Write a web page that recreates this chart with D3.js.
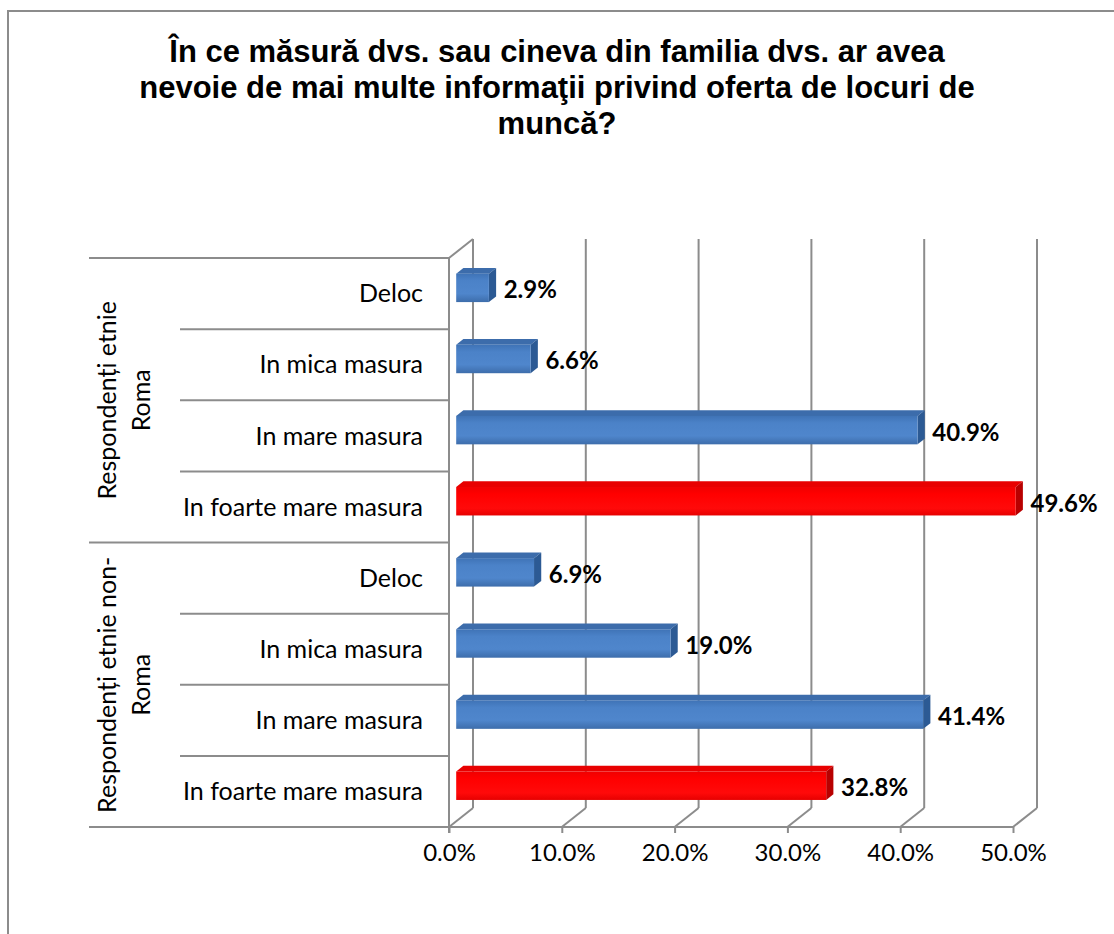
<!DOCTYPE html>
<html>
<head>
<meta charset="utf-8">
<script src="https://cdn.jsdelivr.net/npm/d3@7/dist/d3.min.js"></script>
<style>
  body { margin: 0; background: #fff; }
  text { font-family: Lato, "Open Sans", sans-serif; fill: #000; }
  .title { font-family: "Liberation Sans", Arial, sans-serif; font-weight: bold; font-size: 31px; }
</style>
</head>
<body>
<div id="chart"></div>
<script>
var TITLE = ["În ce măsură dvs. sau cineva din familia dvs. ar avea",
             "nevoie de mai multe informaţii privind oferta de locuri de",
             "muncă?"];
var groups = [["Respondenți etnie", "Roma"], ["Respondenți etnie non-", "Roma"]];
var categories = ["Deloc", "In mica masura", "In mare masura", "In foarte mare masura"];
var romaValues = [2.9, 6.6, 40.9, 49.6];
var nonRomaValues = [6.9, 19.0, 41.4, 32.8];
var ticks = [0, 10, 20, 30, 40, 50];
var HIGHLIGHT = "In foarte mare masura";

var width = 1114, height = 934;
var GRID = "#8c8c8c";
// depth of the 3d box (back wall sits up and to the right)
var DX = 24, DY = -19;
var plotTop = 258, plotBottom = 827;

var rows = [];
[romaValues, nonRomaValues].forEach(function(vals, g) {
  categories.forEach(function(c, i) {
    rows.push({key: g + "-" + i, group: g, cat: c, value: vals[i]});
  });
});

var svg = d3.select("#chart").append("svg")
  .attr("width", width)
  .attr("height", height);

var defs = svg.append("defs");
function grad(id, stops) {
  var lg = defs.append("linearGradient").attr("id", id)
    .attr("x1", 0).attr("y1", 0).attr("x2", 0).attr("y2", 1);
  stops.forEach(function(s) {
    lg.append("stop").attr("offset", s[0]).attr("stop-color", s[1]);
  });
}
grad("blueFront", [[0, "#3f73b6"], [0.25, "#4b82c8"], [0.7, "#4f86cc"], [1, "#3d6dab"]]);
grad("redFront", [[0, "#f00000"], [0.25, "#ff0000"], [0.75, "#ff0a0a"], [1, "#e60000"]]);

// chart border (cropped on the right and bottom)
svg.append("rect")
  .attr("x", 8).attr("y", 11)
  .attr("width", 1120).attr("height", 940)
  .attr("fill", "none")
  .attr("stroke", GRID)
  .attr("stroke-width", 2);

svg.append("text")
  .attr("class", "title")
  .attr("text-anchor", "middle")
  .selectAll("tspan")
  .data(TITLE)
  .enter().append("tspan")
    .attr("x", 557)
    .attr("y", function(d, i) { return 62 + i * 36; })
    .text(function(d) { return d; });

var x = d3.scaleLinear().domain([0, 50]).range([449, 1013]);
var y = d3.scaleBand()
  .domain(rows.map(function(d) { return d.key; }))
  .range([plotTop, plotBottom])
  .paddingInner(0.6)
  .paddingOuter(0.3);
var step = y.step();

// back wall gridlines
svg.append("g").selectAll("line")
  .data(ticks)
  .enter().append("line")
    .attr("x1", function(d) { return x(d) + DX; })
    .attr("x2", function(d) { return x(d) + DX; })
    .attr("y1", plotTop + DY)
    .attr("y2", plotBottom + DY)
    .attr("stroke", GRID).attr("stroke-width", 2);

// floor diagonals
svg.append("g").selectAll("line")
  .data(ticks)
  .enter().append("line")
    .attr("x1", function(d) { return x(d); })
    .attr("x2", function(d) { return x(d) + DX; })
    .attr("y1", plotBottom)
    .attr("y2", plotBottom + DY)
    .attr("stroke", GRID).attr("stroke-width", 2);

// top diagonal of side wall
svg.append("line")
  .attr("x1", x(0)).attr("y1", plotTop)
  .attr("x2", x(0) + DX).attr("y2", plotTop + DY)
  .attr("stroke", GRID).attr("stroke-width", 2);

// front axis lines
svg.append("line")
  .attr("x1", x(0)).attr("x2", x(0))
  .attr("y1", plotTop).attr("y2", plotBottom + 6)
  .attr("stroke", GRID).attr("stroke-width", 2);
svg.append("line")
  .attr("x1", x(0)).attr("x2", x(50))
  .attr("y1", plotBottom).attr("y2", plotBottom)
  .attr("stroke", GRID).attr("stroke-width", 2);

// x axis
var xAxis = svg.append("g")
  .attr("transform", "translate(0," + plotBottom + ")")
  .call(d3.axisBottom(x).tickValues(ticks).tickSize(6).tickPadding(11)
    .tickFormat(function(d) { return d3.format(".1f")(d) + "%"; }));
xAxis.select(".domain").remove();
xAxis.selectAll(".tick line").attr("stroke", GRID).attr("stroke-width", 2);
xAxis.selectAll(".tick text")
  .attr("font-family", "Lato, sans-serif")
  .attr("font-size", 24)
  .attr("fill", "#000");

// category separators (multi-level axis)
var bounds = d3.range(rows.length + 1).map(function(i) { return plotTop + i * step; });
svg.append("g").selectAll("line")
  .data(bounds)
  .enter().append("line")
    .attr("x1", function(d, i) { return (i % categories.length == 0) ? 89 : 180; })
    .attr("x2", x(0))
    .attr("y1", function(d) { return d; })
    .attr("y2", function(d) { return d; })
    .attr("stroke", GRID).attr("stroke-width", 2);

// category labels
svg.append("g").selectAll("text")
  .data(rows)
  .enter().append("text")
    .attr("x", 423)
    .attr("y", function(d, i) { return plotTop + (i + 0.5) * step; })
    .attr("dy", "0.35em")
    .attr("text-anchor", "end")
    .attr("font-size", 25)
    .text(function(d) { return d.cat; });

// group labels
groups.forEach(function(lines, g) {
  var cy = plotTop + (g + 0.5) * categories.length * step;
  svg.append("text")
    .attr("transform", "translate(116," + cy + ") rotate(-90)")
    .attr("text-anchor", "middle")
    .attr("font-size", 25)
    .selectAll("tspan")
    .data(lines)
    .enter().append("tspan")
      .attr("x", 0)
      .attr("dy", function(d, i) { return i == 0 ? 0 : 34; })
      .text(function(d) { return d; });
});

// 3d bars
var ox = 0.3 * DX, oy = 0.3 * DY, bx = 0.3 * DX, by = 0.3 * DY;
var bar = svg.append("g").selectAll("g")
  .data(rows)
  .enter().append("g");

bar.append("path")
  .attr("d", function(d) {
    var x0 = x(0) + ox, x1 = x(d.value) + ox, yy = y(d.key) + oy;
    return "M" + x0 + "," + yy + "L" + x1 + "," + yy + "L" + (x1 + bx) + "," + (yy + by) +
      "L" + (x0 + bx) + "," + (yy + by) + "Z";
  })
  .attr("fill", function(d) { return d.cat == HIGHLIGHT ? "#e80000" : "#3c6cab"; });

bar.append("path")
  .attr("d", function(d) {
    var x1 = x(d.value) + ox, yy = y(d.key) + oy, h = y.bandwidth();
    return "M" + x1 + "," + yy + "L" + (x1 + bx) + "," + (yy + by) + "L" + (x1 + bx) + "," + (yy + by + h) +
      "L" + x1 + "," + (yy + h) + "Z";
  })
  .attr("fill", function(d) { return d.cat == HIGHLIGHT ? "#b80000" : "#2c5a94"; });

bar.append("rect")
  .attr("x", x(0) + ox)
  .attr("y", function(d) { return y(d.key) + oy; })
  .attr("width", function(d) { return x(d.value) - x(0); })
  .attr("height", y.bandwidth())
  .attr("fill", function(d) { return d.cat == HIGHLIGHT ? "url(#redFront)" : "url(#blueFront)"; });

bar.append("text")
  .attr("x", function(d) { return x(d.value) + 22; })
  .attr("y", function(d) { return y(d.key) + oy + y.bandwidth() / 2 + 2; })
  .attr("dy", "0.35em")
  .attr("font-size", 24)
  .attr("font-weight", "bold")
  .text(function(d) { return d3.format(".1f")(d.value) + "%"; });
</script>
</body>
</html>
